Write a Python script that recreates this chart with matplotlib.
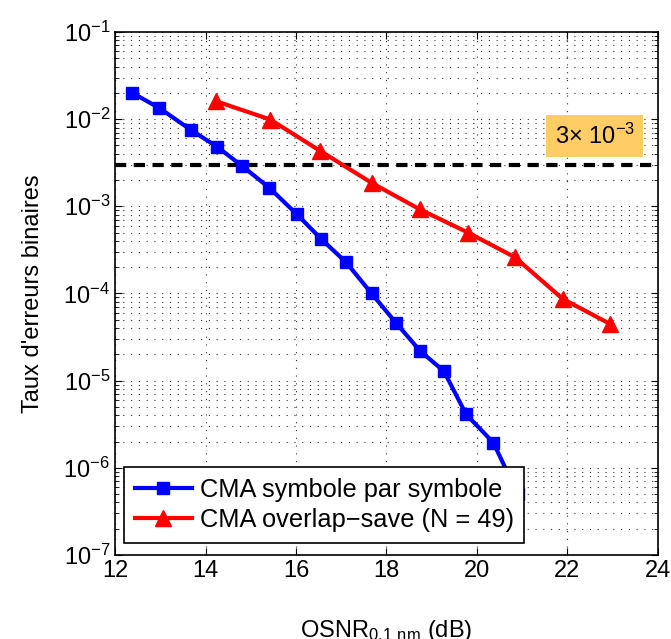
import numpy as np
import matplotlib.pyplot as plt
from matplotlib.ticker import LogLocator, NullFormatter, MultipleLocator

plt.rcParams['font.family'] = ['Liberation Sans', 'DejaVu Sans']
plt.rcParams['mathtext.default'] = 'regular'

# CMA symbole par symbole
osnr_sps = [12.38, 12.98, 13.68, 14.26, 14.81, 15.41, 16.02, 16.56, 17.11,
            17.67, 18.21, 18.74, 19.27, 19.76, 20.36, 20.9]
ber_sps = [2.0e-2, 1.34e-2, 7.5e-3, 4.8e-3, 2.9e-3, 1.63e-3, 8.1e-4, 4.2e-4,
           2.27e-4, 1.0e-4, 4.6e-5, 2.2e-5, 1.28e-5, 4.1e-6, 1.95e-6, 5e-7]

# CMA overlap-save (N = 49)
osnr_ols = [14.24, 15.43, 16.54, 17.67, 18.74, 19.8, 20.84, 21.89, 22.93]
ber_ols = [1.6e-2, 9.9e-3, 4.3e-3, 1.86e-3, 9.2e-4, 5.0e-4, 2.6e-4, 8.7e-5, 4.5e-5]

seuil = 3e-3

fig = plt.figure(figsize=(6.71, 6.39), dpi=100)
ax = fig.add_axes([0.1714, 0.1315, 0.8092, 0.8185])

ax.semilogy(osnr_sps, ber_sps, '-s', color='blue', lw=3, ms=9,
            label='CMA symbole par symbole', zorder=3)
ax.semilogy(osnr_ols, ber_ols, '-^', color='red', lw=3, ms=12,
            label='CMA overlap\u2212save (N = 49)', zorder=3)
ax.axhline(seuil, color='black', ls='--', lw=3, dashes=(2.7, 1.8), zorder=2)

ax.text(22.6, 6.4e-3, '3\u00d7 10$^{-3}$', fontsize=17, ha='center', va='center',
        bbox=dict(facecolor='#FFCC66', edgecolor='none', pad=6), zorder=4)

ax.set_xlim(12, 24)
ax.set_ylim(1e-7, 1e-1)
ax.xaxis.set_major_locator(MultipleLocator(2))
ax.yaxis.set_major_locator(LogLocator(base=10, numticks=10))
ax.yaxis.set_minor_locator(LogLocator(base=10, subs=np.arange(2, 10), numticks=20))
ax.yaxis.set_minor_formatter(NullFormatter())

ax.grid(True, which='major', color='#333333', lw=0.8, dashes=(1, 6))
ax.grid(True, which='minor', axis='y', color='#333333', lw=0.8, dashes=(1, 6))
ax.tick_params(which='both', direction='in', top=True, right=True, labelsize=17)
ax.tick_params(which='major', length=5)
ax.tick_params(which='minor', length=3)
for s in ax.spines.values():
    s.set_linewidth(1.2)

ax.set_xlabel('OSNR$_{0.1\\ nm}$ (dB)', fontsize=17, labelpad=26)
ax.set_ylabel("Taux d'erreurs binaires", fontsize=17, labelpad=14)

leg = ax.legend(loc='lower left', bbox_to_anchor=(0.0166, 0.023), borderaxespad=0,
                fontsize=18.3, fancybox=False, edgecolor='black', framealpha=1,
                handlelength=2.25, borderpad=0.42, labelspacing=0.25, handletextpad=0.3)
leg.get_frame().set_linewidth(1.2)
leg.set_zorder(5)

fig.savefig('out.png', dpi=100)
